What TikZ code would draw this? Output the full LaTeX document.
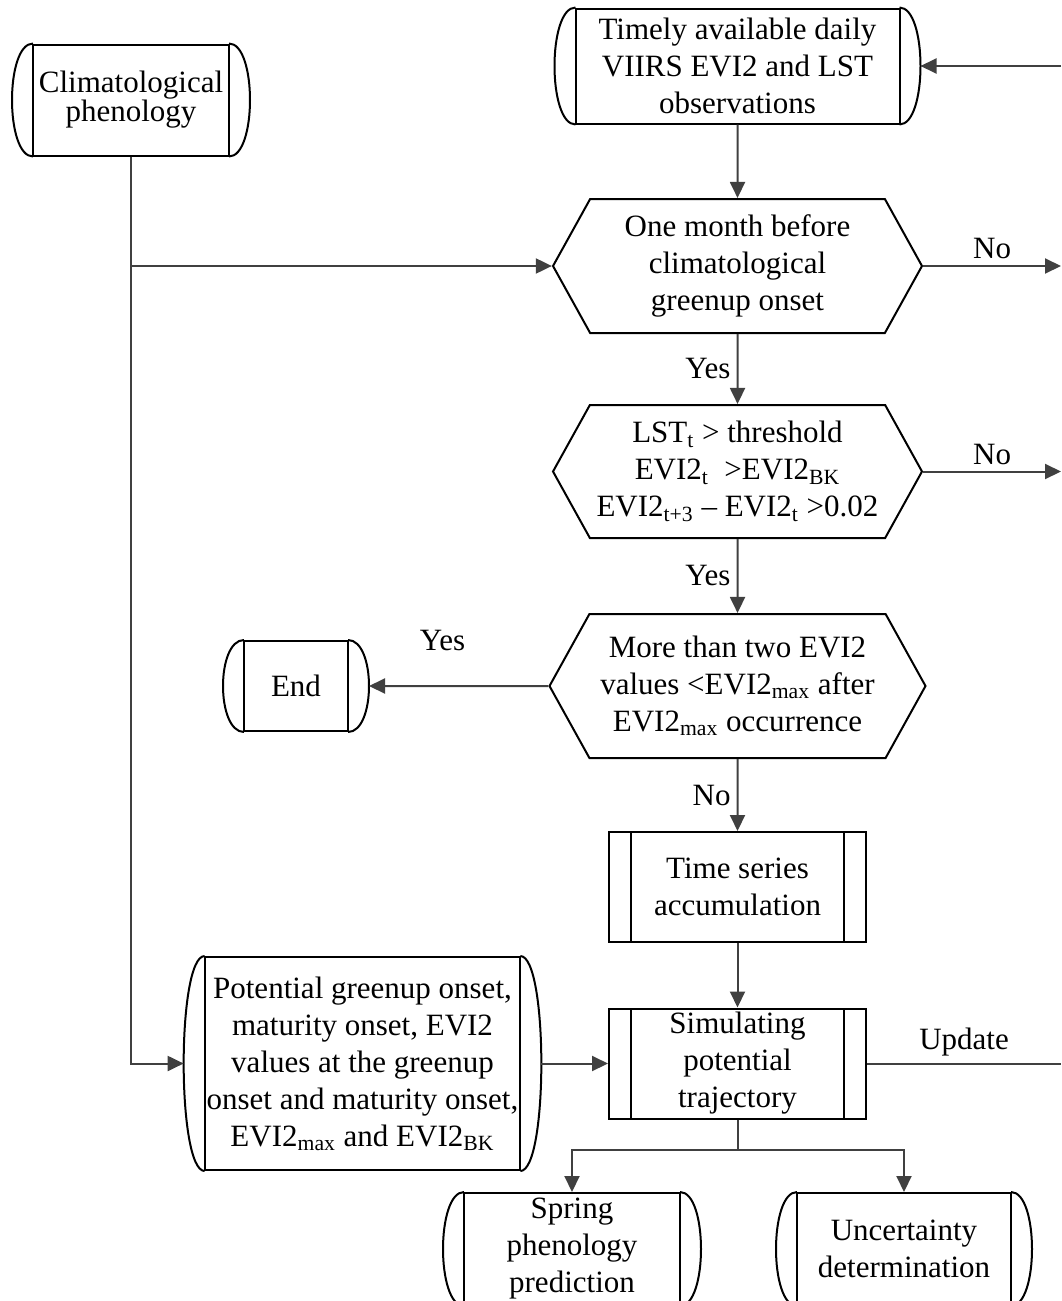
\documentclass[tikz,border=0pt]{standalone}
\usepackage{fontspec}
\setmainfont{Liberation Serif}
\usepackage{tikz}
\usetikzlibrary{arrows.meta,shapes.symbols,positioning}

\begin{document}
\begin{tikzpicture}[x=0.5pt,y=-0.5pt,>={Triangle[length=8pt,width=7.5pt]},
  every node/.style={font=\fontsize{15.5}{18.5}\selectfont},
  stored/.style={draw,line width=1pt,align=center,inner sep=1pt,outer xsep=10.5pt},
  decide/.style={draw,line width=1pt,align=center,shape=signal,signal to=east and west,
    signal pointer angle=122,inner sep=1pt},
  proc/.style={draw,line width=1pt,align=center,minimum width=128.5pt,minimum height=55pt,inner sep=1pt,
    path picture={\draw[line width=1pt]
      ([xshift=11pt]path picture bounding box.north west) -- ([xshift=11pt]path picture bounding box.south west)
      ([xshift=-11pt]path picture bounding box.north east) -- ([xshift=-11pt]path picture bounding box.south east);}},
  link/.style={draw=black!75,line width=1pt},
  lbl/.style={inner sep=3pt}]
  \useasboundingbox (0,0) rectangle (1061,1301);

  % inputs and checks
  \node[stored,minimum width=98pt,minimum height=55.5pt,font=\fontsize{15.5}{14.5}\selectfont] (clim) at (131,100) {Climatological\\phenology};
  \node[stored,minimum width=162pt,minimum height=57.5pt] (obs) at (737.5,66) {Timely available daily\\VIIRS EVI2 and LST\\observations};
  \node[decide,minimum width=184.5pt,minimum height=67pt] (onemonth) at (737.5,266) {One month before\\climatological\\greenup onset};
  \node[decide,minimum width=184.5pt,minimum height=66.5pt] (thresh) at (737.5,471.5) {LST\textsubscript{t} > threshold\\EVI2\textsubscript{t}\ \ >EVI2\textsubscript{BK}\\EVI2\textsubscript{t+3} – EVI2\textsubscript{t} >0.02};
  \node[decide,minimum width=188pt,minimum height=72pt] (maxchk) at (737.5,686) {More than two EVI2\\values <EVI2\textsubscript{max} after\\EVI2\textsubscript{max} occurrence};
  \node[stored,minimum width=52pt,minimum height=45pt] (endbox) at (296,686) {End};
  \node[proc] (tsacc) at (737.5,887) {Time series\\accumulation};
  \node[proc] (simtraj) at (737.5,1063.5) {Simulating\\potential\\trajectory};
  \node[stored,minimum width=157.5pt,minimum height=106.5pt] (potpar) at (362.5,1063.5) {Potential greenup onset,\\maturity onset, EVI2\\values at the greenup\\onset and maturity onset,\\EVI2\textsubscript{max} and EVI2\textsubscript{BK}};
  \node[stored,minimum width=108pt,minimum height=56pt] (spring) at (572,1249) {Spring\\phenology\\prediction};
  \node[stored,minimum width=107pt,minimum height=56pt] (uncert) at (904,1249) {Uncertainty\\determination};

  % rounded ends of the stored boxes
  \foreach \n in {clim,obs,endbox,potpar,spring,uncert}
    \draw[line width=1pt] ([xshift=10.5pt]\n.north west) .. controls ([xshift=-3.5pt]\n.north west) and ([xshift=-3.5pt]\n.south west) .. ([xshift=10.5pt]\n.south west)
      ([xshift=-10.5pt]\n.north east) .. controls ([xshift=3.5pt]\n.north east) and ([xshift=3.5pt]\n.south east) .. ([xshift=-10.5pt]\n.south east);

  % connectors
  \coordinate (rim) at (1061,0);
  \draw[link,->] (obs) -- (onemonth);
  \draw[link,->] (onemonth) -- node[lbl,left]{Yes} (thresh);
  \draw[link,->] (thresh) -- node[lbl,left]{Yes} (maxchk);
  \draw[link,->] (maxchk) -- node[lbl,left]{No} (tsacc);
  \draw[link,->] (maxchk) -- node[lbl,pos=0.59,above=14pt]{Yes} (endbox);
  \draw[link,->] (tsacc) -- (simtraj);
  \draw[link,->] (potpar) -- (simtraj);
  \draw[link,->] (clim) |- (potpar);
  \draw[link,->] (clim.south |- onemonth.west) -- (onemonth.west);
  \draw[link,->] (onemonth.east) -- node[lbl,above]{No} (onemonth.east -| rim);
  \draw[link,->] (thresh.east) -- node[lbl,above]{No} (thresh.east -| rim);
  \draw[link] (simtraj.east) -- node[lbl,above]{Update} (simtraj.east -| rim);
  \draw[link,->] (obs.east -| rim) -- (obs.east);
  \draw[link] (simtraj.south) -- ++(0,30) coordinate (fork);
  \draw[link,->] (fork) -| (spring.north);
  \draw[link,->] (fork) -| (uncert.north);
\end{tikzpicture}
\end{document}
